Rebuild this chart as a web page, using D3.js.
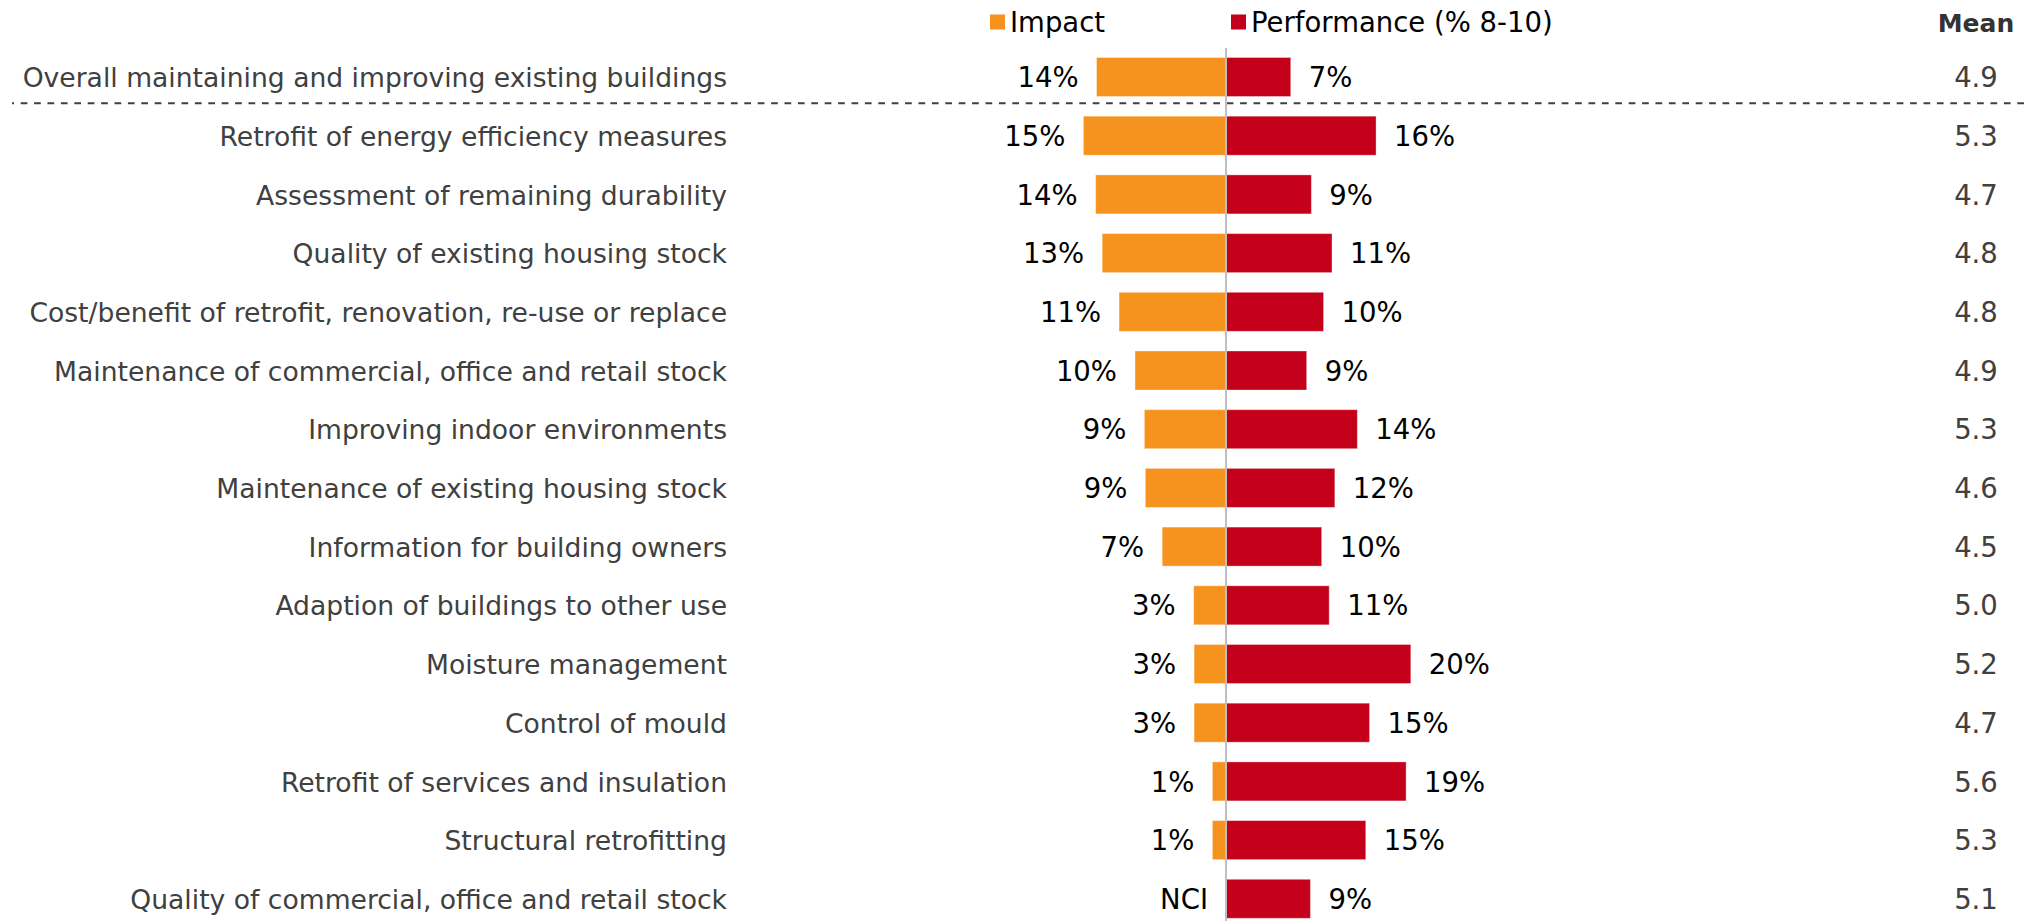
<!DOCTYPE html>
<html>
<head>
<meta charset="utf-8">
<script src="https://cdn.jsdelivr.net/npm/d3@7"></script>
<style>
  html, body { margin: 0; padding: 0; background: #fff; }
  svg { display: block; font-family: "DejaVu Sans", Verdana, sans-serif; }
</style>
</head>
<body>
<div id="chart"></div>
<script>
// categories, top to bottom
const categories = [
  "Overall maintaining and improving existing buildings",
  "Retrofit of energy efficiency measures",
  "Assessment of remaining durability",
  "Quality of existing housing stock",
  "Cost/benefit of retrofit, renovation, re-use or replace",
  "Maintenance of commercial, office and retail stock",
  "Improving indoor environments",
  "Maintenance of existing housing stock",
  "Information for building owners",
  "Adaption of buildings to other use",
  "Moisture management",
  "Control of mould",
  "Retrofit of services and insulation",
  "Structural retrofitting",
  "Quality of commercial, office and retail stock"
];
// Impact (%), null = NCI
const impact = [13.8, 15.2, 13.9, 13.2, 11.4, 9.7, 8.7, 8.6, 6.8, 3.45, 3.4, 3.4, 1.45, 1.45, null];
// Performance (% 8-10)
const performance = [6.9, 16.0, 9.1, 11.3, 10.4, 8.6, 14.0, 11.6, 10.2, 11.0, 19.7, 15.3, 19.2, 14.9, 9.0];
const means = [4.9, 5.3, 4.7, 4.8, 4.8, 4.9, 5.3, 4.6, 4.5, 5.0, 5.2, 4.7, 5.6, 5.3, 5.1];
const seriesNames = ["Impact", "Performance (% 8-10)"];
const colors = ["#f6921e", "#c4001a"];

const width = 2027, height = 921;
const axisX = 1226;
const barH = 39;
const fontSize = 26.6;
const valueSize = 27.5;

const svg = d3.select("#chart").append("svg")
  .attr("width", width)
  .attr("height", height);

// scales
const x = d3.scaleLinear().domain([0, 20]).range([axisX, axisX + 187.6]);
const y = d3.scalePoint().domain(categories).range([77, 898.8]);

const rows = categories.map((c, i) => ({
  name: c, impact: impact[i], perf: performance[i], mean: means[i]
}));

// 왼쪽 카테고리 라벨
svg.append("g").selectAll("text")
  .data(rows)
  .enter().append("text")
  .attr("x", 727)
  .attr("y", d => y(d.name))
  .attr("dy", "0.38em")
  .attr("text-anchor", "end")
  .style("font-size", fontSize + "px")
  .style("fill", "#404040")
  .text(d => d.name);

// impact bars (left of axis)
svg.append("g").selectAll("rect")
  .data(rows.filter(d => d.impact != null))
  .enter().append("rect")
  .attr("x", d => x(-d.impact))
  .attr("y", d => y(d.name) - barH / 2)
  .attr("width", d => x(0) - x(-d.impact))
  .attr("height", barH)
  .attr("fill", colors[0])
  .attr("stroke", "rgba(255,255,255,0.35)")
  .attr("stroke-width", 1);

// performance bars (right of axis)
svg.append("g").selectAll("rect")
  .data(rows)
  .enter().append("rect")
  .attr("x", x(0))
  .attr("y", d => y(d.name) - barH / 2)
  .attr("width", d => x(d.perf) - x(0))
  .attr("height", barH)
  .attr("fill", colors[1])
  .attr("stroke", "rgba(255,255,255,0.35)")
  .attr("stroke-width", 1);

// 값 라벨
svg.append("g").selectAll("text")
  .data(rows)
  .enter().append("text")
  .attr("x", d => (d.impact != null ? x(-d.impact) : x(0)) - 18)
  .attr("y", d => y(d.name))
  .attr("dy", "0.37em")
  .attr("text-anchor", "end")
  .style("font-size", valueSize + "px")
  .style("fill", "#000")
  .text(d => d.impact != null ? Math.round(d.impact) + "%" : "NCI");

svg.append("g").selectAll("text")
  .data(rows)
  .enter().append("text")
  .attr("x", d => x(d.perf) + 18)
  .attr("y", d => y(d.name))
  .attr("dy", "0.37em")
  .style("font-size", valueSize + "px")
  .style("fill", "#000")
  .text(d => Math.round(d.perf) + "%");

// mean column
svg.append("text")
  .attr("x", 1976)
  .attr("y", 32)
  .attr("text-anchor", "middle")
  .style("font-size", "25px")
  .style("font-weight", "bold")
  .style("fill", "#333")
  .text("Mean");

svg.append("g").selectAll("text")
  .data(rows)
  .enter().append("text")
  .attr("x", 1976)
  .attr("y", d => y(d.name))
  .attr("dy", "0.37em")
  .attr("text-anchor", "middle")
  .style("font-size", valueSize + "px")
  .style("fill", "#404040")
  .text(d => d3.format(".1f")(d.mean));

// 점선 구분선
svg.append("line")
  .attr("x1", 12).attr("x2", width)
  .attr("y1", 103.3).attr("y2", 103.3)
  .attr("stroke", "#404040")
  .attr("stroke-width", 2)
  .attr("stroke-dasharray", "6.7,6.7")
  .attr("stroke-dashoffset", 4.7);

// center axis
svg.append("line")
  .attr("x1", x(0)).attr("x2", x(0))
  .attr("y1", 48).attr("y2", height)
  .attr("stroke", "#bfbfbf")
  .attr("stroke-width", 2);

// 범례
const legendX = [990, 1231];
const legend = svg.append("g").selectAll("g")
  .data(seriesNames)
  .enter().append("g")
  .attr("transform", (d, i) => `translate(${legendX[i]}, 0)`);

legend.append("rect")
  .attr("x", 0).attr("y", 14.5)
  .attr("width", 15).attr("height", 15)
  .attr("fill", (d, i) => colors[i]);

legend.append("text")
  .attr("x", 20)
  .attr("y", 32)
  .style("font-size", "27.5px")
  .style("fill", "#000")
  .text(d => d);
</script>
</body>
</html>
